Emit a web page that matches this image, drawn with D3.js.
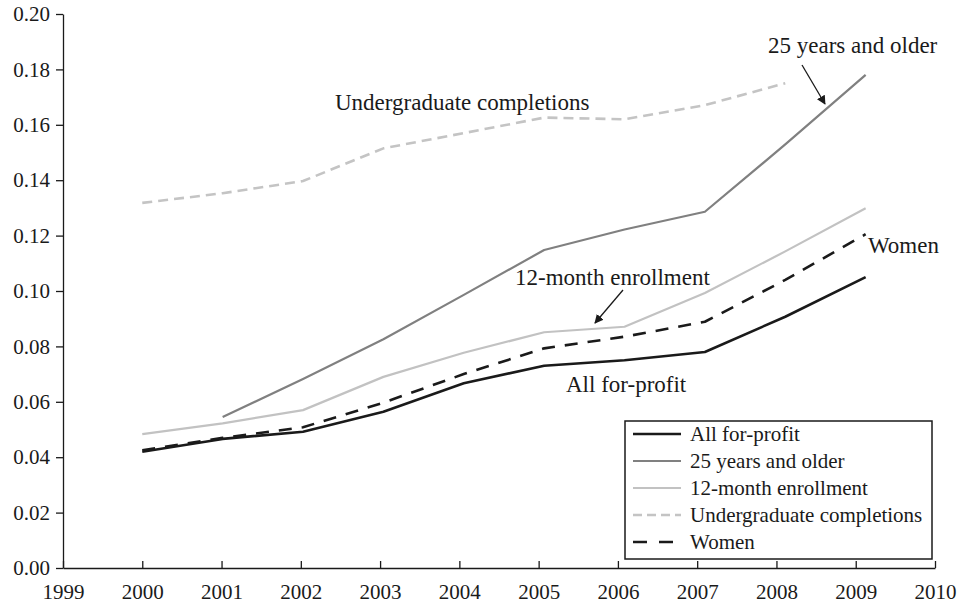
<!DOCTYPE html>
<html>
<head>
<meta charset="utf-8">
<script src="https://cdn.jsdelivr.net/npm/d3@7"></script>
<style>
  body { margin: 0; background: #fff; }
  svg text { font-family: "Liberation Serif", "Times New Roman", serif; fill: #1a1a1a; }
  .axis path, .axis line { stroke: #1a1a1a; stroke-width: 1.3px; }
  .axis text { font-size: 21px; }
</style>
</head>
<body>
<div id="chart"></div>
<script>
// Data
var years = [2000, 2001, 2002, 2003, 2004, 2005, 2006, 2007, 2008, 2009];
var allForProfit = [0.042, 0.0466, 0.0492, 0.0564, 0.0667, 0.073, 0.075, 0.078, 0.0907, 0.105];
var olderThan25 = [null, 0.0545, 0.0682, 0.0826, 0.0986, 0.1148, 0.1222, 0.1286, 0.1529, 0.178];
var enrollment12 = [0.0483, 0.0522, 0.057, 0.069, 0.0777, 0.0851, 0.0871, 0.0993, 0.1143, 0.1299];
var undergrad = [0.1318, 0.1353, 0.1397, 0.1515, 0.157, 0.1626, 0.162, 0.1671, 0.175, null];
var women = [0.0425, 0.047, 0.0508, 0.0597, 0.070, 0.0793, 0.0835, 0.0889, 0.104, 0.1205];

var xTicks = [1999, 2000, 2001, 2002, 2003, 2004, 2005, 2006, 2007, 2008, 2009, 2010];
var yTicks = [0, 0.02, 0.04, 0.06, 0.08, 0.10, 0.12, 0.14, 0.16, 0.18, 0.20];

var seriesNames = ["All for-profit", "25 years and older", "12-month enrollment", "Undergraduate completions", "Women"];

var series = [
    {name: seriesNames[0], values: allForProfit, color: "#1a1a1a", width: 2.6, dash: null, legendDash: null},
    {name: seriesNames[1], values: olderThan25, color: "#808080", width: 2.2, dash: null, legendDash: null},
    {name: seriesNames[2], values: enrollment12, color: "#c2c2c2", width: 2.2, dash: null, legendDash: null},
    {name: seriesNames[3], values: undergrad, color: "#c4c4c4", width: 2.6, dash: "10,6", legendDash: "9,5"},
    {name: seriesNames[4], values: women, color: "#1a1a1a", width: 2.6, dash: "13,10", legendDash: "14,12"}
];

var W = 970, H = 606;
var margin = {top: 14, right: 35, bottom: 38, left: 63},
    width = W - margin.left - margin.right,
    height = H - margin.top - margin.bottom;

var x = d3.scaleLinear().domain([1999, 2010]).range([0, width]);
var y = d3.scaleLinear().domain([0, 0.2]).range([height, 0]);
// in the original the plotted points sit a little right of the year ticks
var xData = d3.scaleLinear().domain([2000, 2009]).range([x(2000), x(2009.125)]);

var svg = d3.select("#chart").append("svg")
    .attr("width", W)
    .attr("height", H)
  .append("g")
    .attr("transform", "translate(" + margin.left + "," + margin.top + ")");

// arrow head
svg.append("defs").append("marker")
    .attr("id", "arrow")
    .attr("viewBox", "0 0 10 10")
    .attr("refX", 9).attr("refY", 5)
    .attr("markerWidth", 9).attr("markerHeight", 9)
    .attr("markerUnits", "userSpaceOnUse")
    .attr("orient", "auto")
  .append("path")
    .attr("d", "M0,0L10,5L0,10z")
    .attr("fill", "#1a1a1a");

// axes
var xAxis = d3.axisBottom(x).tickValues(xTicks).tickFormat(d3.format("d")).tickSizeInner(-7).tickSizeOuter(0).tickPadding(16);
var yAxis = d3.axisLeft(y).tickValues(yTicks).tickFormat(d3.format(".2f")).tickSizeInner(7).tickSizeOuter(0).tickPadding(6);

svg.append("g")
    .attr("class", "x axis")
    .attr("transform", "translate(0," + height + ")")
    .call(xAxis);

svg.append("g")
    .attr("class", "y axis")
    .call(yAxis);

// lines
var line = d3.line()
    .defined(d => d.v != null)
    .x(d => xData(d.year))
    .y(d => y(d.v));

svg.selectAll(".series")
    .data(series)
    .enter().append("path")
    .attr("class", "series")
    .attr("d", s => line(years.map((yr, i) => ({year: yr, v: s.values[i]}))))
    .attr("fill", "none")
    .attr("stroke", s => s.color)
    .attr("stroke-width", s => s.width)
    .attr("stroke-dasharray", s => s.dash)
    .attr("stroke-linejoin", "round");

// annotations
var notes = [
    {text: "25 years and older", x: 705, y: 39},
    {text: "Undergraduate completions", x: 272, y: 96},
    {text: "12-month enrollment", x: 452, y: 271},
    {text: "Women", x: 805, y: 239},
    {text: "All for-profit", x: 503, y: 378}
];
svg.selectAll(".note")
    .data(notes)
    .enter().append("text")
    .attr("class", "note")
    .attr("x", d => d.x)
    .attr("y", d => d.y)
    .style("font-size", "23px")
    .text(d => d.text);

var arrows = [
    {x1: 739, y1: 51, x2: 762, y2: 90},
    {x1: 560, y1: 276, x2: 532, y2: 309}
];
svg.selectAll(".arrow")
    .data(arrows)
    .enter().append("line")
    .attr("x1", d => d.x1).attr("y1", d => d.y1)
    .attr("x2", d => d.x2).attr("y2", d => d.y2)
    .attr("stroke", "#1a1a1a")
    .attr("stroke-width", 1.3)
    .attr("marker-end", "url(#arrow)");

// legend
var legend = svg.append("g")
    .attr("transform", "translate(562,407)");

legend.append("rect")
    .attr("width", 307)
    .attr("height", 138)
    .attr("fill", "#fff")
    .attr("stroke", "#1a1a1a")
    .attr("stroke-width", 1.5);

var item = legend.selectAll(".legend")
    .data(series)
    .enter().append("g")
    .attr("class", "legend")
    .attr("transform", (d, i) => "translate(0," + (13 + i * 27) + ")");

item.append("line")
    .attr("x1", 8).attr("x2", 56)
    .attr("stroke", d => d.color)
    .attr("stroke-width", d => d.width)
    .attr("stroke-dasharray", d => d.legendDash);

item.append("text")
    .attr("x", 65)
    .attr("y", 7)
    .style("font-size", "21px")
    .text(d => d.name);
</script>
</body>
</html>
